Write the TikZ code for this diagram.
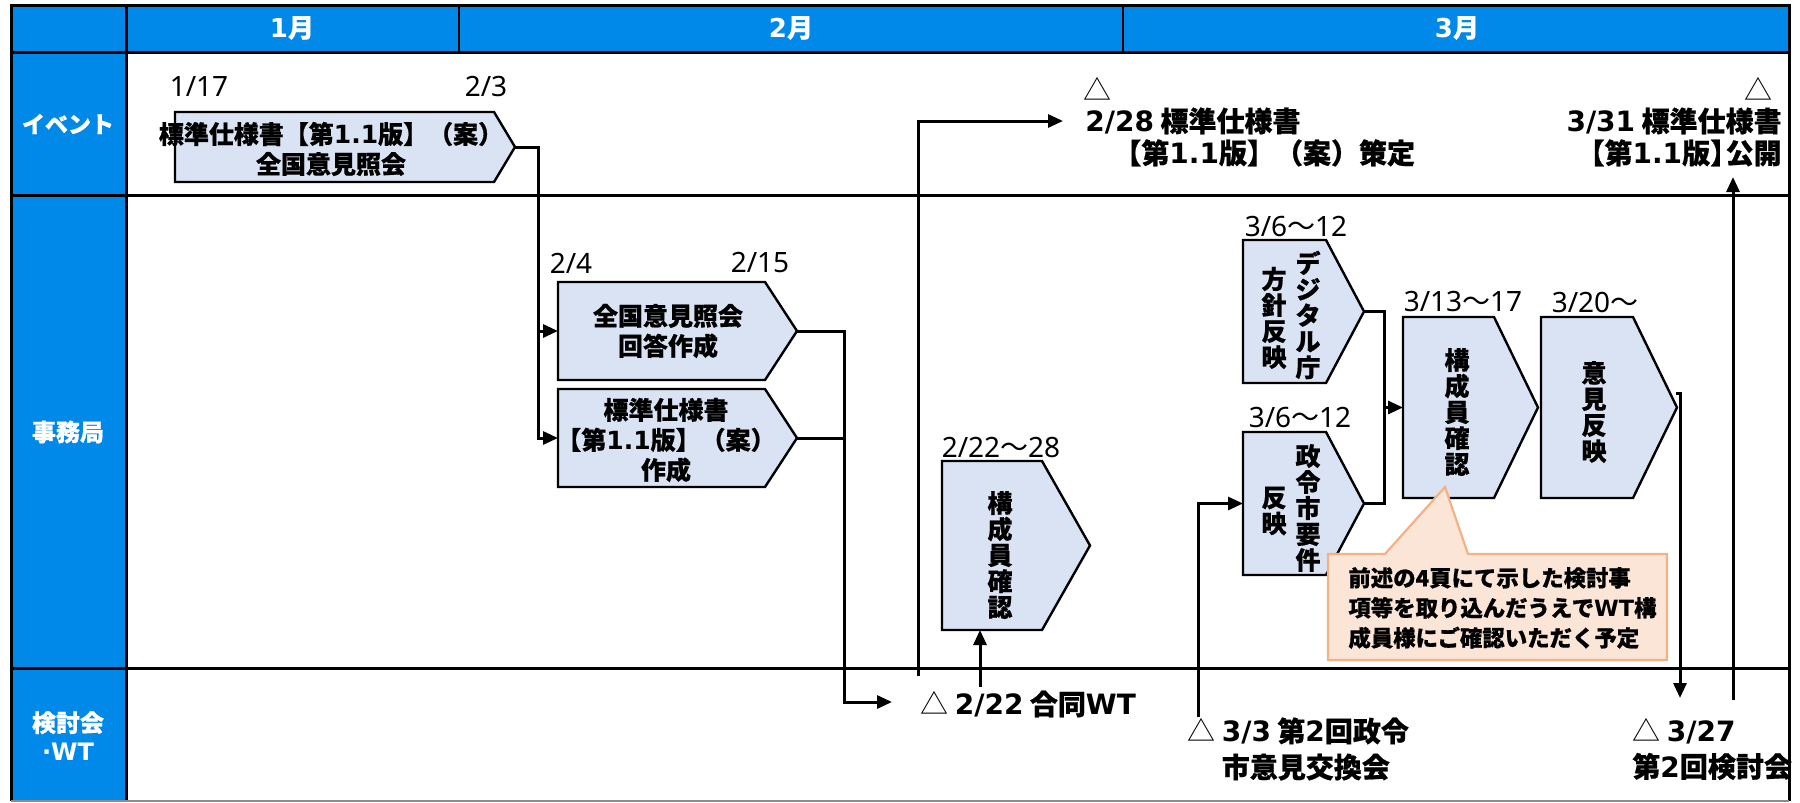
\documentclass[tikz,border=0pt]{standalone}
\usepackage{fontspec}
\usetikzlibrary{arrows.meta,calc,fit}
\newfontfamily\jp{Noto Sans CJK JP}[BoldFeatures={FakeBold=0.6}]
\newfontfamily\dvf{DejaVu Sans}
\newfontfamily\nsf{Noto Sans}
\newcommand\dv[1]{{\dvf #1}}
\definecolor{hdr}{RGB}{0,137,233}
\definecolor{boxfill}{RGB}{218,227,243}
\definecolor{callfill}{RGB}{251,229,214}
\definecolor{calldraw}{RGB}{244,177,131}
\pgfdeclarelayer{back}
\pgfsetlayers{back,main}
\newcommand\pent[2]{%
  \begin{pgfonlayer}{back}
  \draw[pentline] (#1.north west) -- ($(#1.north east)+(-#2,0)$) -- (#1.east)
     -- ($(#1.south east)+(-#2,0)$) -- (#1.south west) -- cycle;
  \end{pgfonlayer}}
\tikzset{
  pentline/.style={draw=black, line width=1.2pt, fill=boxfill, line join=miter},
  conn/.style={line width=1.5pt, -{Triangle[length=7.5pt,width=6.5pt]}},
  wire/.style={line width=1.5pt},
  tline/.style={line width=1.5pt, draw=black},
  tthin/.style={line width=1pt, draw=black},
  hold/.style={inner sep=0pt, outer sep=0pt},
  boxtxt/.style={font={\jp\bfseries\fontsize{12.5}{15}\selectfont}, align=center, inner sep=0pt},
  vtxt/.style={font={\jp\bfseries\fontsize{12.5}{13}\selectfont}, align=center, inner sep=0pt},
  datetxt/.style={font={\jp\fontsize{14}{16}\selectfont}, inner sep=0pt},
  evt/.style={font={\jp\bfseries\fontsize{14}{16}\selectfont}, inner sep=0pt},
  evtb/.style={font={\jp\bfseries\fontsize{14}{18}\selectfont}, inner sep=0pt},
  hdrtxt/.style={font={\jp\bfseries\fontsize{12}{14.5}\selectfont}, text=white, align=center, inner sep=0pt},
  calltxt/.style={font={\jp\bfseries\fontsize{11.2}{15}\selectfont}, align=left, inner sep=0pt},
  callbox/.style={fill=callfill, draw=calldraw, line width=1.1pt, line join=miter},
}
\begin{document}
\begin{tikzpicture}[x=0.5pt, y=-0.5pt]
\useasboundingbox (0,0) rectangle (1800,803);
\begin{pgfonlayer}{back}
  \fill[white] (0,0) rectangle (1800,803);
\end{pgfonlayer}

% ---- table ----
\fill[hdr] (11,5) rectangle (1789,52);
\fill[hdr] (11,52) rectangle (126,801);
\draw[tline] (11,52) -- (1789,52);
\draw[tline] (11,195) -- (1789,195);
\draw[tline] (11,668) -- (1789,668);
\draw[tline] (126,5) -- (126,801);
\draw[tthin] (459,5) -- (459,52);
\draw[tthin] (1123,5) -- (1123,52);
\draw[tline] (11,801) -- (11,5) -- (1789,5) -- (1789,801);
\draw[line width=1pt, draw=black!45] (11,801) -- (1789,801);

\node[hdrtxt, font={\jp\bfseries\fontsize{13}{15}\selectfont}] (m1) at (292,28) {\dv{1}月};
\node[hdrtxt, font={\jp\bfseries\fontsize{13}{15}\selectfont}] (m2) at (791,28) {\dv{2}月};
\node[hdrtxt, font={\jp\bfseries\fontsize{13}{15}\selectfont}] (m3) at (1457,28) {\dv{3}月};
\node[hdrtxt, font={\jp\bfseries\fontsize{11.5}{14.5}\selectfont}] (lev) at (68,124) {イベント};
\node[hdrtxt] (ljm) at (68,432) {事務局};
\node[hdrtxt] (lwt) at (68,736) {検討会\\\dv{·WT}};

% ---- event row ----
\node[datetxt] (d117) at (199,87) {\nsf 1/17};
\node[datetxt] (d23) at (486,87) {\nsf 2/3};
\node[hold, fit={(175,112) (515,182)}] (e1) {};
\pent{e1}{21}
\node[boxtxt] (e1t) at (331,149) {標準仕様書【第\dv{1.1}版】（案）\\全国意見照会};

\node[datetxt] (tri1) at (1097,89) {△};
\node[evt, anchor=west, align=left] (ev228) at (1085,137) {\dv{2/28} 標準仕様書\\　【第\dv{1.1}版】（案）策定};
\node[datetxt] (tri2) at (1758,89) {△};
\node[evt, anchor=east, align=right] (ev331) at (1782,137) {\dv{3/31} 標準仕様書\\【第\dv{1.1}版】\hspace{-0.45em}公開};

% ---- secretariat row ----
\node[datetxt] (d24) at (571,263) {\nsf 2/4};
\node[datetxt] (d215) at (760,263) {\nsf 2/15};
\node[hold, fit={(558,282) (797,380)}] (b2a) {};
\pent{b2a}{32}
\node[boxtxt] (b2at) at (668,331) {全国意見照会\\回答作成};
\node[hold, fit={(558,389) (797,487)}] (b2b) {};
\pent{b2b}{32}
\node[boxtxt] (b2bt) at (666,440) {標準仕様書\\【第\dv{1.1}版】（案）\\作成};

\node[datetxt] (d222) at (1001,447) {{\nsf 2/22}～{\nsf 28}};
\node[hold, fit={(942,461) (1090,630)}] (k1) {};
\pent{k1}{48}
\node[vtxt] (k1t) at (1000,555) {構\\成\\員\\確\\認};

\node[datetxt] (d36a) at (1296,227) {{\nsf 3/6}～{\nsf 12}};
\node[hold, fit={(1243,240) (1364,383)}] (k2) {};
\pent{k2}{38}
\node[vtxt] (k2r) at (1308,315) {デ\\ジ\\タ\\ル\\庁};
\node[vtxt] (k2l) at (1274,318) {方\\針\\反\\映};

\node[datetxt] (d36b) at (1300,417) {{\nsf 3/6}～{\nsf 12}};
\node[hold, fit={(1243,432) (1364,575)}] (k3) {};
\pent{k3}{38}
\node[vtxt] (k3r) at (1308,508) {政\\令\\市\\要\\件};
\node[vtxt] (k3l) at (1274,511) {反\\映};

\node[datetxt] (d313) at (1463,302) {{\nsf 3/13}～{\nsf 17}};
\node[hold, fit={(1403,317) (1538,498)}] (k4) {};
\pent{k4}{44}
\node[vtxt] (k4t) at (1457,412) {構\\成\\員\\確\\認};

\node[datetxt] (d320) at (1595,302) {{\nsf 3/20}～};
\node[hold, fit={(1541,317) (1677,498)}] (k5) {};
\pent{k5}{44}
\node[vtxt] (k5t) at (1594,412) {意\\見\\反\\映};

% ---- callout ----
\draw[callbox] (1328,554) -- (1385,554) -- (1445,487) -- (1468,554) -- (1667,554)
   -- (1667,660) -- (1328,660) -- cycle;
\node[calltxt, anchor=west] (callt) at (1348,608) {前述の4頁にて示した検討事\\項等を取り込んだうえで\dv{WT}構\\成員様にご確認いただく予定};

% ---- WT row ----
\node[evt, anchor=west] (wt1) at (920,704) {{\mdseries △} \dv{2/22} 合同\dv{WT}};
\node[evtb, anchor=west, align=left] (wt2) at (1187,749) {{\mdseries △} \dv{3/3} 第\dv{2}回政令\\\phantom{△} 市意見交換会};
\node[evtb, anchor=west, align=left] (wt3) at (1632,749) {{\mdseries △} \dv{3/27}\\第\dv{2}回検討会};

% ---- connectors ----
\coordinate (j1) at ($(e1.east)+(23,0)$);
\draw[conn] (e1.east) -- (j1) |- (b2b.west);
\draw[conn] (j1) |- (b2a.west);

\coordinate (j2) at (844,702);
\coordinate (t2) at (892,702);
\draw[wire] (b2a.east) -| (j2);
\draw[conn] (b2b.east) -| (j2) -- (t2);

\coordinate (s3) at (918,676);
\coordinate (t3) at (1063,121);
\draw[conn] (s3) |- (t3);

\coordinate (s4) at (980,687);
\draw[conn] (s4) -- (s4 |- k1.south);

\coordinate (s5) at (1198,717);
\draw[conn] (s5) |- (k3.west);

\coordinate (j6) at (1384,407.5);
\draw[wire] (k2.east) -| (j6) |- (k3.east);
\draw[conn] (j6) -- (k4.west);

\coordinate (s7) at (1676,393);
\coordinate (t7) at (1680,698);
\draw[conn] (s7) -| (t7);

\coordinate (s8) at (1733,700);
\coordinate (t8) at (1733,177);
\draw[conn] (s8) -- (t8);
\end{tikzpicture}
\end{document}
